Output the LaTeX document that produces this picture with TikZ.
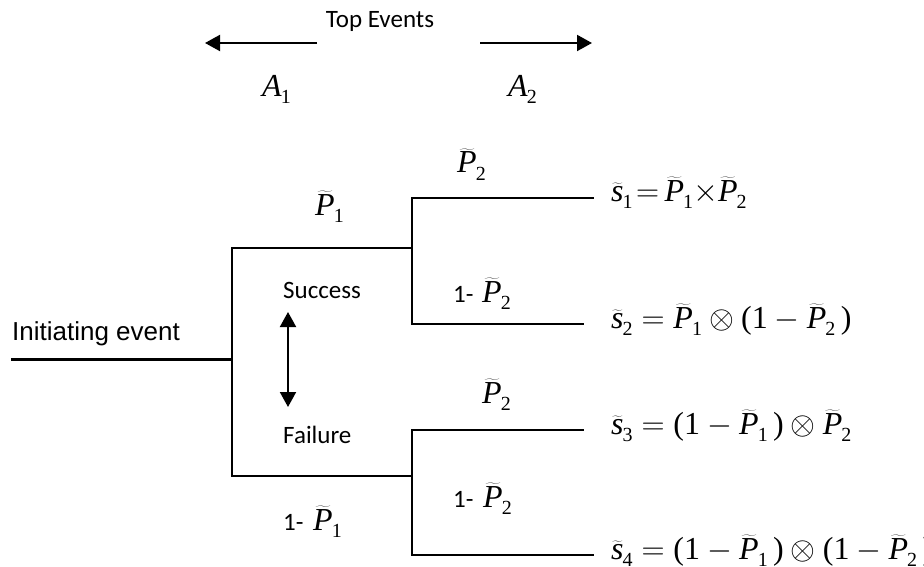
\RequirePackage{fix-cm}
\documentclass[tikz,border=0pt]{standalone}
\usepackage{fontspec}
\setmainfont{Carlito}
\newfontfamily\tnr{Liberation Serif}
\newfontfamily\arl{Liberation Sans}
\usetikzlibrary{arrows.meta}
\newcommand\tx[1]{\mbox{\tnr #1}}
\newcommand\sbx[1]{\mbox{\kern-1pt\raisebox{-7pt}{\tnr\fontsize{20}{20}\selectfont #1}}}
\newcommand\tv[2]{\widetilde{\mbox{\tnr\itshape #1}}\sbx{#2}}
\newcommand\pv[2]{\mbox{\tnr\itshape #1}\sbx{#2}}
\begin{document}
\begin{tikzpicture}[x=1pt,y=-1pt,
  ln/.style={line width=2pt,line cap=rect},
  arr/.style={line width=2pt,-{Triangle[length=15pt,width=16pt]}},
  darr/.style={line width=2pt,{Triangle[length=15pt,width=16pt]}-{Triangle[length=15pt,width=16pt]}},
  lbl/.style={anchor=base west,inner sep=0pt,font=\fontsize{25}{30}\selectfont},
  mth/.style={anchor=base west,inner sep=0pt,font=\fontsize{32}{36}\selectfont}]
\useasboundingbox (0,0) rectangle (924,567);
% coordinates
\coordinate (ie) at (11,359);
\coordinate (j1) at (232,359);
\coordinate (u) at (232,248);
\coordinate (d) at (232,476);
\coordinate (u1) at (412,248);
\coordinate (d1) at (412,476);
\coordinate (uu) at (412,198);
\coordinate (ud) at (412,324);
\coordinate (du) at (412,430);
\coordinate (dd) at (412,555);
\coordinate (e1) at (593,198);
\coordinate (e2) at (583,324);
\coordinate (e3) at (583,430);
\coordinate (e4) at (593,555);
\coordinate (la1) at (317,43);
\coordinate (la2) at (205,43);
\coordinate (ra1) at (480,43);
\coordinate (ra2) at (592,43);
\coordinate (da1) at (288,312);
\coordinate (da2) at (288,407);
% tree
\draw[line width=3pt] (ie) -- (j1);
\draw[ln] (u) -- (d);
\draw[ln] (u) -- (u1);
\draw[ln] (d) -- (d1);
\draw[ln] (uu) -- (ud);
\draw[ln] (du) -- (dd);
\draw[ln] (uu) -- (e1);
\draw[ln] (ud) -- (e2);
\draw[ln] (du) -- (e3);
\draw[ln] (dd) -- (e4);
% arrows
\draw[arr] (la1) -- (la2);
\draw[arr] (ra1) -- (ra2);
\draw[darr] (da1) -- (da2);
% texts
\node[lbl,anchor=base] (top) at (380,28) {Top Events};
\node[mth] (a1) at (262,97) {$\pv{A}{1}$};
\node[mth] (a2) at (508,97) {$\pv{A}{2}$};
\node[lbl,font=\arl\fontsize{26}{30}\selectfont] (init) at (12,340) {Initiating event};
\node[lbl] (succ) at (283,298) {Success};
\node[lbl] (fail) at (283,443) {Failure};
\node[mth] (p1) at (315,215) {$\tv{P}{1}$};
\node[mth] (p2a) at (457,173) {$\tv{P}{2}$};
\node[lbl] (o2a) at (453,302) {1-};
\node[mth] (q2a) at (482,302) {$\tv{P}{2}$};
\node[mth] (p2b) at (482,403) {$\tv{P}{2}$};
\node[lbl] (o2b) at (453,507) {1-};
\node[mth] (q2b) at (483,507) {$\tv{P}{2}$};
\node[lbl] (o1) at (283,530) {1-};
\node[mth] (q1) at (313,530) {$\tv{P}{1}$};
% equations
\node[mth] (s1) at (611,201) {$\tv{s}{1}\mskip2mu{=}\mskip3mu\tv{P}{1}{\times}\tv{P}{2}$};
\node[mth] (s2) at (611,328) {$\tv{s}{2} = \tv{P}{1}\otimes\tx{(}\tx{1}-\tv{P}{2}\,\tx{)}$};
\node[mth] (s3) at (611,434) {$\tv{s}{3} = \tx{(}\tx{1}-\tv{P}{1}\,\tx{)}\otimes\tv{P}{2}$};
\node[mth] (s4) at (611,559) {$\tv{s}{4} = \tx{(}\tx{1}-\tv{P}{1}\,\tx{)}\otimes\tx{(}\tx{1}-\tv{P}{2}\,\tx{)}$};
\end{tikzpicture}
\end{document}
